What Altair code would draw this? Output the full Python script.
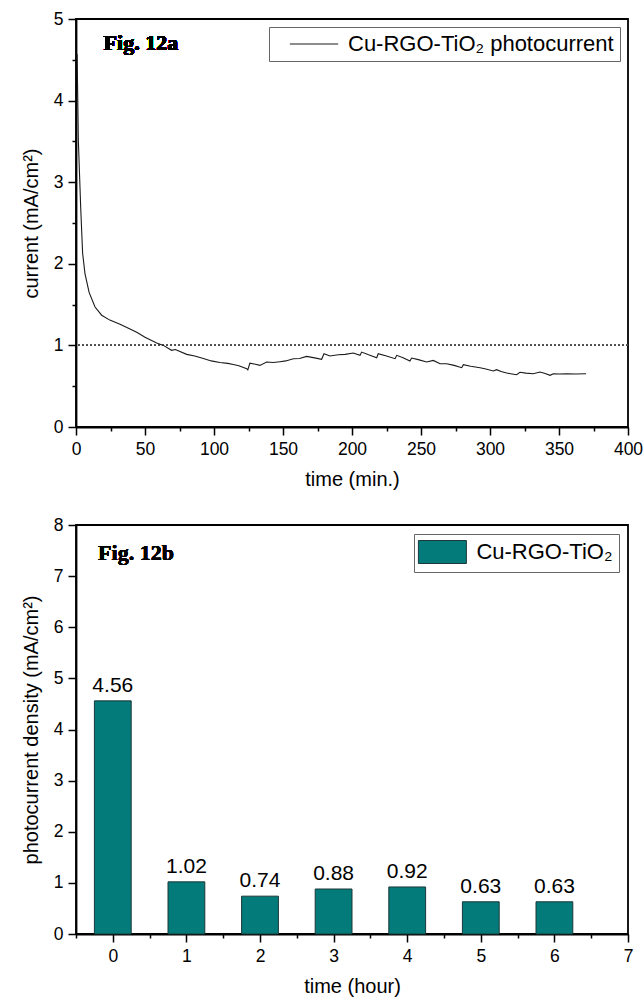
import altair as alt
import pandas as pd

# ---------------- data ----------------
time_min = [0.8, 1.7, 3.4, 4.8, 6.5, 9.5, 13.8, 18.6, 24.5, 31.9, 38, 44, 50, 58.5, 63.3,
            69.3, 72, 80.2, 86, 92.3, 98, 104.3, 110, 114, 118, 123.7, 124.5, 126, 130,
            133.3, 138.1, 143, 147.8, 152, 157.5, 162, 167.1, 172, 178, 179.7, 184, 190,
            195, 200.9, 205.8, 207, 212, 217.9, 219, 225, 231.2, 232.4, 237, 242, 243.2,
            248, 254.1, 258.9, 263.8, 268.6, 274, 279.5, 280.7, 286, 292.8, 297, 302.4,
            304.8, 308, 312.1, 316, 319.3, 321.7, 326, 331.4, 336.2, 340, 343.5, 345.9,
            350, 355.6, 362, 369.6]
current = [4.57, 3.51, 2.69, 2.13, 1.88, 1.65, 1.47, 1.37, 1.31, 1.26, 1.21, 1.16, 1.10,
           1.03, 1.0, 0.94, 0.95, 0.89, 0.87, 0.84, 0.81, 0.79, 0.78, 0.767, 0.75, 0.715,
           0.70, 0.783, 0.77, 0.755, 0.796, 0.79, 0.80, 0.81, 0.837, 0.84, 0.865, 0.85,
           0.83, 0.898, 0.87, 0.885, 0.89, 0.906, 0.878, 0.918, 0.885, 0.849, 0.898, 0.87,
           0.837, 0.878, 0.85, 0.808, 0.845, 0.826, 0.796, 0.816, 0.776, 0.776, 0.755,
           0.727, 0.763, 0.745, 0.727, 0.71, 0.686, 0.703, 0.68, 0.661, 0.65, 0.641, 0.67,
           0.66, 0.653, 0.673, 0.655, 0.633, 0.653, 0.65, 0.653, 0.65, 0.653]
ref_level = 1.01

hours = [0, 1, 2, 3, 4, 5, 6]
density = [4.56, 1.02, 0.74, 0.88, 0.92, 0.63, 0.63]

series_a = "Cu-RGO-TiO₂ photocurrent"
series_b = "Cu-RGO-TiO₂"
label_a = "Fig. 12a"
label_b = "Fig. 12b"

xa_ticks = [v * 25 for v in range(0, 17)]
ya_ticks = [v * 0.5 for v in range(0, 11)]
xb_ticks = [v * 0.5 - 0.5 for v in range(0, 16)]
yb_ticks = list(range(0, 9))

FONT = "Liberation Sans"
SERIF = "Liberation Serif"
BAR = "#027b7a"
BAR_EDGE = "#1c3838"

df_a = pd.DataFrame({"t": time_min, "i": current, "series": series_a})
df_b = pd.DataFrame({"h": hours, "d": density, "series": series_b})


def make_axis(title, values, test, title_pad=12):
    return alt.Axis(
        title=title, values=values,
        labelExpr=f"({test}) ? format(datum.value, 'd') : ''",
        tickSize={"condition": {"test": test, "value": 8}, "value": 4},
        tickColor="black", tickWidth=1.5, domainColor="black", domainWidth=1.8,
        labelFont=FONT, labelFontSize=17.5, labelColor="black", labelPadding=5,
        titleFont=FONT, titleFontSize=20, titleFontWeight="normal", titleColor="black",
        titlePadding=title_pad, grid=False, labelFlush=False, labelOverlap=False,
    )


W, H = 552, 408

# ---------------- panel a ----------------
xa_axis = make_axis("time (min.)", xa_ticks, "datum.value % 50 === 0")
ya_axis = make_axis("current (mA/cm²)", ya_ticks, "datum.value % 1 === 0")
xa_scale = alt.Scale(domain=[0, 400], nice=False)
ya_scale = alt.Scale(domain=[0, 5], nice=False)

line = alt.Chart(df_a).mark_line(strokeWidth=1.1, clip=True).encode(
    x=alt.X("t:Q", scale=xa_scale, axis=xa_axis),
    y=alt.Y("i:Q", scale=ya_scale, axis=ya_axis),
    color=alt.Color("series:N", scale=alt.Scale(domain=[series_a], range=["#1a1a1a"]),
                    legend=alt.Legend(
                        title=None, orient="top-right", offset=8, padding=6,
                        strokeColor="#666", fillColor="white", cornerRadius=0,
                        labelFont=FONT, labelFontSize=22, labelColor="black",
                        labelLimit=500,
                        symbolType="M-2.3,0H2.3", symbolSize=441, symbolStrokeWidth=1,
                        symbolStrokeColor="black", symbolOffset=28, labelOffset=23)),
)
ref = alt.Chart(df_a).mark_rule(strokeDash=[2, 2], color="#555", strokeWidth=1).encode(
    y=alt.datum(ref_level, scale=ya_scale, axis=ya_axis))
tag_a = alt.Chart(df_a).mark_text(align="left", baseline="middle", font=SERIF,
                                  fontWeight="bold", fontSize=22, color="black").encode(
    x=alt.datum(20, scale=xa_scale, axis=xa_axis),
    y=alt.datum(4.7, scale=ya_scale, axis=ya_axis),
    text=alt.value(label_a))

top = alt.layer(ref, line, tag_a).properties(width=W, height=H)

# ---------------- panel b ----------------
xb_axis = make_axis("time (hour)", xb_ticks, "datum.value % 1 === 0")
yb_axis = make_axis("photocurrent density (mA/cm²)", yb_ticks, "true")
xb_scale = alt.Scale(domain=[-0.5, 7], nice=False)
yb_scale = alt.Scale(domain=[0, 8], nice=False)

base_b = alt.Chart(df_b).transform_calculate(x0="datum.h - 0.25", x1="datum.h + 0.25")
bars = base_b.mark_bar(stroke=BAR_EDGE, strokeWidth=1, opacity=1).encode(
    x=alt.X("x0:Q", scale=xb_scale, axis=xb_axis),
    x2="x1:Q",
    y=alt.Y("d:Q", scale=yb_scale, axis=yb_axis),
    y2=alt.datum(0),
    color=alt.Color("series:N", scale=alt.Scale(domain=[series_b], range=[BAR]),
                    legend=alt.Legend(
                        title=None, orient="top-right", offset=9, padding=6,
                        strokeColor="#666", fillColor="white", cornerRadius=0,
                        labelFont=FONT, labelFontSize=22, labelColor="black",
                        labelLimit=500,
                        symbolType="M-2.087,-1H2.087V1H-2.087Z", symbolSize=529,
                        symbolStrokeWidth=1, symbolStrokeColor=BAR_EDGE,
                        symbolFillColor=BAR, symbolOpacity=1,
                        symbolOffset=10.4, labelOffset=22)),
)
vals = alt.Chart(df_b).mark_text(baseline="alphabetic", dy=-9, font=FONT, fontSize=21,
                                 color="black").encode(
    x=alt.X("h:Q", scale=xb_scale, axis=xb_axis),
    y=alt.Y("d:Q", scale=yb_scale, axis=yb_axis),
    text=alt.Text("d:Q", format=".2f"))
tag_b = alt.Chart(df_b).mark_text(align="left", baseline="middle", font=SERIF,
                                  fontWeight="bold", fontSize=22, color="black").encode(
    x=alt.datum(-0.2, scale=xb_scale, axis=xb_axis),
    y=alt.datum(7.45, scale=yb_scale, axis=yb_axis),
    text=alt.value(label_b))

bottom = alt.layer(bars, vals, tag_b).properties(width=W, height=409)

chart = alt.vconcat(top, bottom, spacing=24).resolve_scale(
    color="independent").resolve_legend(color="independent").properties(
    padding={"left": 20, "top": 9, "right": 0, "bottom": 0},
    background="white",
).configure_view(stroke="black", strokeWidth=1.8)

chart.save("out.html", embed_options={"renderer": "svg", "actions": False})
